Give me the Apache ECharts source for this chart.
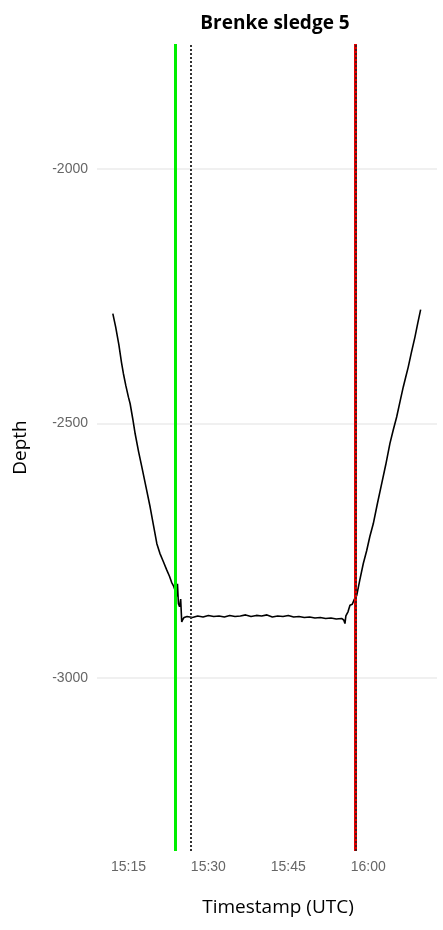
<!DOCTYPE html>
<html>
<head>
<meta charset="utf-8">
<script src="https://cdn.jsdelivr.net/npm/echarts@6/dist/echarts.min.js"></script>
<style>html,body{margin:0;padding:0;background:#fff;}#c{width:443px;height:930px;}</style>
</head>
<body>
<div id="c"></div>
<script>
// minutes after 15:00 UTC
const timeMin = [12.07,12.6,13.2,13.7,14.06,14.5,15.0,15.32,15.8,16.26,16.9,17.51,18.3,19.07,19.7,20.33,20.9,21.5,22.2,22.7,23.1,23.5,23.76,24.0,24.2,24.38,24.6,24.8,25.0,25.2,25.44,
  26,27,28,29,30,31,32,33,34,35,36,37,38,39,40,41,42,43,44,45,46,47,48,49,50,51,52,53,54,55,55.4,55.63,55.8,56.2,56.57,57,57.4,57.83,58.4,59.07,59.7,60.3,60.94,61.7,62.52,63.3,64.07,64.7,65.33,66.0,66.57,67.0,67.5,68.1,68.76,69.3,69.83];
const depth = [-2284,-2310,-2345,-2380,-2402,-2425,-2448,-2461,-2490,-2520,-2555,-2585,-2625,-2664,-2700,-2736,-2755,-2770,-2788,-2800,-2812,-2820,-2828,-2840,-2815,-2854,-2860,-2845,-2890,-2885,-2881,
  -2879,-2881,-2878,-2880,-2877,-2879,-2878,-2880,-2877,-2879,-2878,-2876,-2879,-2877,-2878,-2876,-2880,-2878,-2879,-2877,-2880,-2879,-2881,-2880,-2882,-2881,-2883,-2882,-2884,-2883,-2886,-2893,-2878,-2870,-2857,-2855,-2845,-2838,-2808,-2775,-2750,-2722,-2697,-2658,-2618,-2580,-2539,-2512,-2487,-2455,-2428,-2410,-2389,-2360,-2330,-2302,-2276];
const xTicks = [15,30,45,60];
const yTicks = [-3000,-2500,-2000];
const startMark = 23.75;   // green
const dottedMark = 26.76;  // black dotted
const endMark = 57.6;      // red
const title = 'Brenke sledge 5';

function fmt(v){
  const h = 15 + Math.floor(v/60);
  const m = Math.round(v - Math.floor(v/60)*60);
  return h + ':' + (m<10?'0':'') + m;
}

const chart = echarts.init(document.getElementById('c'));
chart.setOption({
  animation:false,
  backgroundColor:'#fff',
  title:{text:title,left:270,textAlign:'center',top:9,textStyle:{fontFamily:'Open Sans',fontWeight:'bold',fontSize:19,color:'#000'}},
  grid:{left:97,right:6,top:44,bottom:79},
  xAxis:{type:'value',min:9.1,max:72.9,
    name:'Timestamp (UTC)',nameLocation:'middle',nameGap:47,
    nameTextStyle:{fontFamily:'Open Sans',fontSize:19,color:'#000',padding:[0,0,0,22]},
    axisLine:{show:false},axisTick:{show:false,customValues:xTicks},
    splitLine:{show:false},
    axisLabel:{customValues:xTicks,formatter:fmt,color:'#666',fontSize:14,fontFamily:'Liberation Sans',margin:9}},
  yAxis:{type:'value',min:-3340,max:-1754,
    name:'Depth',nameLocation:'middle',nameGap:67,nameRotate:90,
    nameTextStyle:{fontFamily:'Open Sans',fontSize:19,color:'#000'},
    axisLine:{show:false},axisTick:{show:false,customValues:yTicks},
    splitLine:{show:true,lineStyle:{color:'#ebebeb',width:1.5}},
    axisLabel:{customValues:yTicks,formatter:v=>String(v),color:'#666',fontSize:14,fontFamily:'Liberation Sans',margin:9}},
  series:[
    {type:'line',data:timeMin.map((t,i)=>[t,depth[i]]),symbol:'none',
      lineStyle:{color:'#000',width:1.6},z:3},
    {type:'line',data:[],markLine:{symbol:'none',silent:true,label:{show:false},
      data:[
        {xAxis:startMark,lineStyle:{color:'#00ee00',width:3,type:'solid'}},
        {xAxis:endMark,lineStyle:{color:'#e00000',width:3,type:'solid'}},
        {xAxis:dottedMark,lineStyle:{color:'#333',width:2,type:[2,2]}},
        {xAxis:endMark,lineStyle:{color:'#222',width:1.5,type:[2,2]}}
      ]},z:4}
  ]
});
</script>
</body>
</html>
